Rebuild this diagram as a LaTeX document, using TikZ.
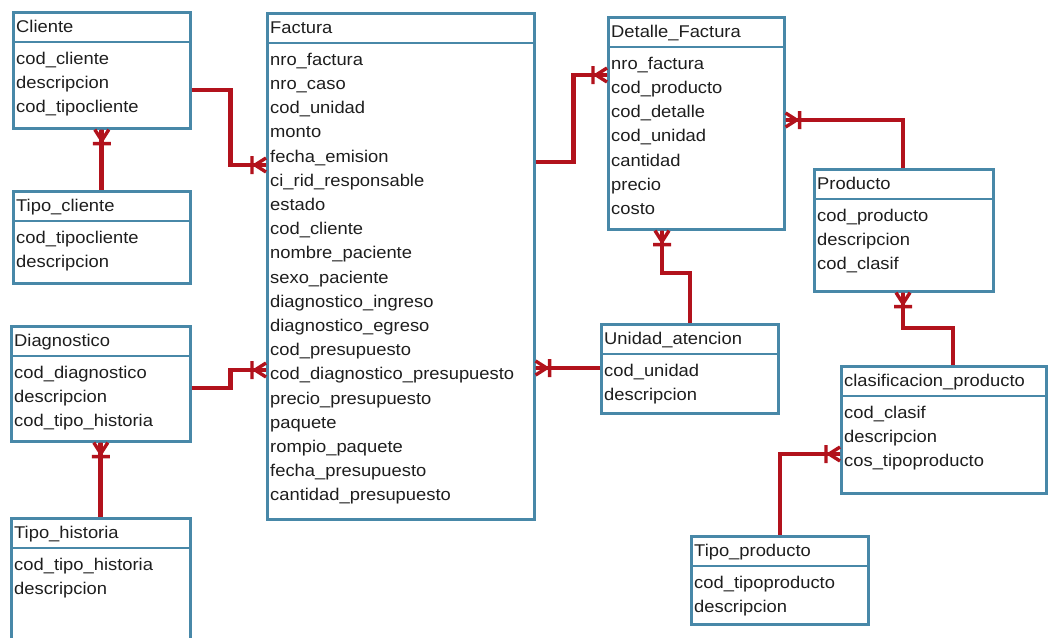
\documentclass[tikz,border=0pt]{standalone}
\usepackage{fontspec}
\setmainfont{Liberation Sans}[FakeStretch=1.08]
\usetikzlibrary{calc}

\definecolor{boxblue}{RGB}{72,136,168}
\definecolor{relred}{RGB}{178,18,28}
\definecolor{txtgray}{RGB}{30,30,30}

% entity box: name, left x, top y, width, height, title, field list
\newcommand\erentity[7]{%
  \node[entbox, minimum width=#4pt, minimum height=#5pt] (#1) at (#2,-#3) {};
  \draw[sepline] ([yshift=-31pt]#1.north west) -- ([yshift=-31pt]#1.north east);
  \node[lbl] (#1-title) at ([xshift=4pt,yshift=-17pt]#1.north west) {#6};
  \foreach \fld [count=\k] in {#7}{
    \node[lbl] (#1-\k) at ([xshift=4pt,yshift={-49-(\k-1)*24.2}]#1.north west) {\fld};
  }%
}

\begin{document}
\begin{tikzpicture}[x=1pt,y=1pt,
  entbox/.style={draw=boxblue, line width=2.6pt, fill=white, inner sep=0pt, anchor=north west},
  sepline/.style={draw=boxblue, line width=2.4pt},
  lbl/.style={anchor=west, inner sep=0pt, text height=12pt, text depth=3.5pt,
              text=txtgray, font=\fontsize{17}{20}\selectfont},
  relline/.style={draw=relred, line width=4.8pt},
  crowfoot/.pic={
    \draw[relred, line width=3.4pt] (0,7) -- (11,0) -- (0,-7) (0,0) -- (11,0) (14,-9) -- (14,9);
  }]
\useasboundingbox[fill=white] (0,0) rectangle (1056,-637);

\erentity{cliente}{12}{11}{177}{116}{Cliente}{cod\_cliente,descripcion,cod\_tipocliente}
\erentity{tipocliente}{12}{190}{177}{92}{Tipo\_cliente}{cod\_tipocliente,descripcion}
\erentity{diagnostico}{10}{325}{179}{115}{Diagnostico}{cod\_diagnostico,descripcion,cod\_tipo\_historia}
\erentity{tipohistoria}{10}{517}{179}{122}{Tipo\_historia}{cod\_tipo\_historia,descripcion}
\erentity{factura}{266}{12}{267}{506}{Factura}{nro\_factura,nro\_caso,cod\_unidad,monto,fecha\_emision,ci\_rid\_responsable,estado,cod\_cliente,nombre\_paciente,sexo\_paciente,diagnostico\_ingreso,diagnostico\_egreso,cod\_presupuesto,cod\_diagnostico\_presupuesto,precio\_presupuesto,paquete,rompio\_paquete,fecha\_presupuesto,cantidad\_presupuesto}
\erentity{detalle}{607}{16}{176}{212}{Detalle\_Factura}{nro\_factura,cod\_producto,cod\_detalle,cod\_unidad,cantidad,precio,costo}
\erentity{producto}{813}{168}{179}{122}{Producto}{cod\_producto,descripcion,cod\_clasif}
\erentity{unidad}{600}{323}{177}{89}{Unidad\_atencion}{cod\_unidad,descripcion}
\erentity{clasif}{840}{365}{205}{127}{clasificacion\_producto}{cod\_clasif,descripcion,cos\_tipoproducto}
\erentity{tipoproducto}{690}{535}{177}{88}{Tipo\_producto}{cod\_tipoproducto,descripcion}

% relationships
\draw[relline] ([yshift=-79pt]cliente.north east) -- ++(39,0) |- ([yshift=-153pt]factura.north west);
\pic[rotate=180] at ([yshift=-153pt]factura.north west) {crowfoot};

\draw[relline] (tipocliente.north) -- (tipocliente.north |- cliente.south);
\pic[rotate=-90] at (tipocliente.north |- cliente.south) {crowfoot};

\draw[relline] ([yshift=-63pt]diagnostico.north east) -- ++(39,0) |- ([yshift=-358pt]factura.north west);
\pic[rotate=180] at ([yshift=-358pt]factura.north west) {crowfoot};

\draw[relline] (tipohistoria.north) -- (tipohistoria.north |- diagnostico.south);
\pic[rotate=-90] at (tipohistoria.north |- diagnostico.south) {crowfoot};

\draw[relline] ([yshift=-150pt]factura.north east) -- ++(38,0) |- ([yshift=-59pt]detalle.north west);
\pic[rotate=180] at ([yshift=-59pt]detalle.north west) {crowfoot};

\draw[relline] ([xshift=90pt]producto.north west) |- ([yshift=-104pt]detalle.north east);
\pic at ([yshift=-104pt]detalle.north east) {crowfoot};

\draw[relline] ([xshift=90pt]unidad.north west) -- ++(0,50) -| ([xshift=55pt]detalle.south west);
\pic[rotate=-90] at ([xshift=55pt]detalle.south west) {crowfoot};

\draw[relline] ([yshift=-45pt]unidad.north west) -- ([yshift=-45pt]unidad.north west -| factura.east);
\pic at ([yshift=-45pt]unidad.north west -| factura.east) {crowfoot};

\draw[relline] ([xshift=113pt]clasif.north west) -- ++(0,37) -| ([xshift=90pt]producto.south west);
\pic[rotate=-90] at ([xshift=90pt]producto.south west) {crowfoot};

\draw[relline] ([xshift=90pt]tipoproducto.north west) |- ([yshift=-89pt]clasif.north west);
\pic[rotate=180] at ([yshift=-89pt]clasif.north west) {crowfoot};
\end{tikzpicture}
\end{document}
